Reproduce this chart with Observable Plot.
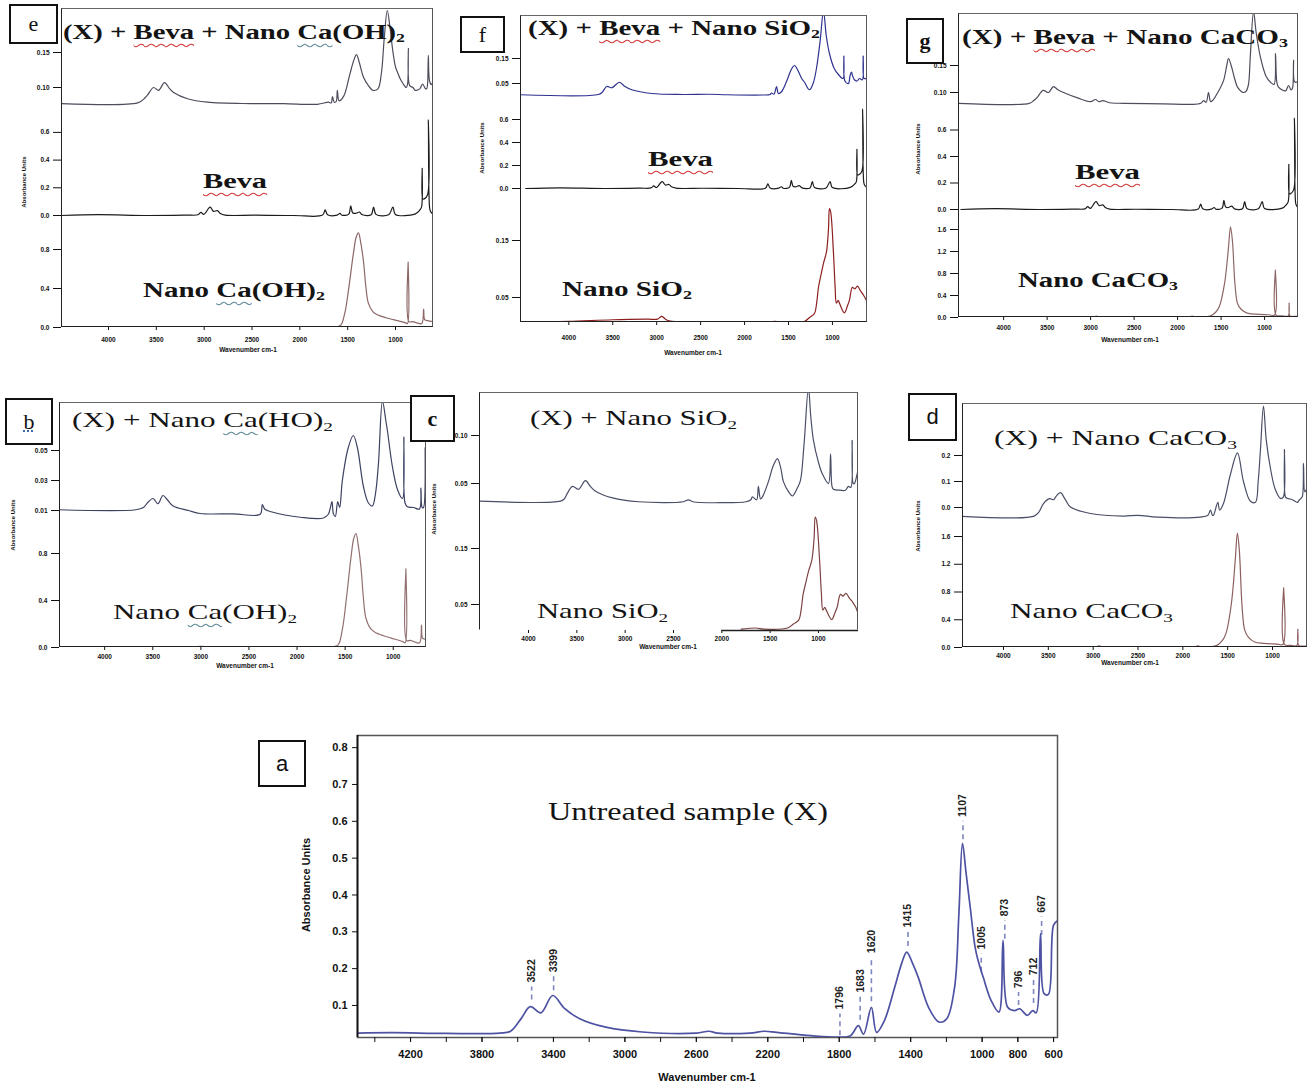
<!DOCTYPE html>
<html><head><meta charset="utf-8">
<script src="https://cdn.jsdelivr.net/npm/d3@7"></script>
<script src="https://cdn.jsdelivr.net/npm/@observablehq/plot@0.6"></script>
<style>
body{margin:0;background:#fff;}
#fig{position:relative;width:1312px;height:1085px;overflow:hidden;background:#fff;}
.abs{position:absolute;}
.frame{position:absolute;box-sizing:border-box;pointer-events:none;border-style:solid;border-width:1.5px;border-color:#666 #555 #222 #222;}
.title{position:absolute;font-family:"Liberation Serif","Times New Roman",serif;white-space:nowrap;line-height:1;transform-origin:0 50%;color:#141414;}
.box{position:absolute;border:2.5px solid #111;background:#fff;box-sizing:border-box;display:flex;align-items:center;justify-content:center;color:#111;}
.ax{position:absolute;font-family:"Liberation Sans",Arial,sans-serif;font-weight:bold;white-space:nowrap;line-height:1;color:#111;}
.wr{text-decoration:underline wavy #d23b3b;text-decoration-thickness:1px;text-underline-offset:4px;}
.wb{text-decoration:underline wavy #5f8a9a;text-decoration-thickness:1px;text-underline-offset:4px;}
sub{font-size:0.62em;vertical-align:-0.28em;line-height:0;}
</style></head><body><div id="fig"></div>
<script>
// ---------------- DATA (wavenumber cm-1, absorbance) ----------------
const aSpectrum = [[4497,0.025],[4300,0.026],[4000,0.024],[3700,0.025],[3640,0.03],[3580,0.065],[3530,0.097],[3470,0.08],[3404,0.127],[3340,0.093],[3253,0.064],[3107,0.041],[2903,0.028],[2600,0.025],[2530,0.03],[2480,0.025],[2300,0.025],[2218,0.03],[2150,0.027],[1958,0.018],[1800,0.014],[1737,0.018],[1693,0.045],[1664,0.022],[1620,0.095],[1591,0.027],[1547,0.059],[1489,0.15],[1450,0.215],[1422,0.245],[1390,0.215],[1358,0.177],[1300,0.095],[1241,0.055],[1198,0.064],[1154,0.15],[1130,0.35],[1110,0.54],[1090,0.46],[1067,0.368],[1040,0.26],[1023,0.223],[994,0.177],[950,0.114],[906,0.082],[883,0.277],[857,0.095],[819,0.086],[790,0.091],[746,0.073],[717,0.086],[697,0.08],[673,0.295],[653,0.132],[629,0.13],[600,0.318],[578,0.33]];
const aPeakWn = [3522,3399,1796,1683,1620,1415,1107,1005,873,796,712,667];
const aDashLo = [0.115,0.14,0.018,0.06,0.11,0.26,0.55,0.19,0.28,0.10,0.105,0.29];
const aDashHi = [0.15,0.178,0.077,0.123,0.23,0.30,0.60,0.24,0.33,0.135,0.17,0.34];
const aYTicks = [0.1,0.2,0.3,0.4,0.5,0.6,0.7,0.8];
const aXTicks = [4200,3800,3400,3000,2600,2200,1800,1400,1000,800,600];
const aXMinor = [4400,4200,4000,3800,3600,3400,3200,3000,2800,2600,2400,2200,2000,1800,1600,1400,1200,1000,800,600];

const eTop = [[4491,0.077],[3695,0.078],[3634,0.083],[3593,0.089],[3529,0.100],[3477,0.096],[3414,0.107],[3359,0.098],[3319,0.093],[3174,0.084],[2966,0.079],[2516,0.077],[2170,0.077],[1816,0.076],[1701,0.079],[1672,0.078],[1659,0.087],[1641,0.079],[1620,0.08],[1608,0.096],[1590,0.081],[1540,0.088],[1479,0.118],[1438,0.138],[1408,0.147],[1377,0.135],[1336,0.115],[1285,0.103],[1235,0.096],[1184,0.098],[1148,0.12],[1118,0.17],[1086,0.21],[1057,0.185],[1031,0.155],[1001,0.13],[980,0.122],[950,0.112],[919,0.105],[889,0.1],[874,0.105],[866,0.156],[853,0.103],[818,0.1],[792,0.096],[747,0.098],[716,0.105],[691,0.099],[675,0.098],[665,0.105],[657,0.146],[645,0.11],[625,0.104],[604,0.11],[583,0.112]];
const fTop = [[4550,0.005],[3663,0.006],[3620,0.015],[3568,0.038],[3511,0.033],[3424,0.055],[3370,0.04],[3284,0.025],[3057,0.01],[2700,0.006],[2400,0.007],[2200,0.005],[1800,0.004],[1710,0.006],[1693,0.012],[1665,0.007],[1636,0.038],[1615,0.01],[1580,0.017],[1520,0.06],[1470,0.105],[1432,0.122],[1390,0.1],[1350,0.07],[1318,0.055],[1261,0.025],[1220,0.05],[1182,0.11],[1140,0.22],[1102,0.34],[1070,0.24],[1034,0.17],[980,0.11],[932,0.086],[880,0.07],[870,0.16],[858,0.06],[818,0.05],[800,0.08],[784,0.096],[770,0.08],[750,0.065],[720,0.06],[693,0.07],[660,0.065],[650,0.16],[640,0.07],[614,0.07],[591,0.07]];
const gTop = [[4519,0.080],[3705,0.080],[3654,0.085],[3614,0.091],[3546,0.104],[3484,0.100],[3427,0.111],[3376,0.105],[3312,0.100],[3150,0.090],[3001,0.083],[2944,0.087],[2904,0.083],[2863,0.085],[2781,0.081],[2621,0.080],[2164,0.079],[1851,0.078],[1733,0.080],[1702,0.085],[1671,0.082],[1645,0.100],[1620,0.083],[1599,0.085],[1538,0.100],[1472,0.122],[1435,0.150],[1415,0.163],[1384,0.150],[1343,0.125],[1311,0.110],[1242,0.100],[1209,0.103],[1185,0.115],[1163,0.17],[1127,0.25],[1096,0.21],[1047,0.165],[983,0.13],[932,0.119],[891,0.115],[874,0.172],[860,0.12],[840,0.11],[759,0.103],[725,0.113],[696,0.105],[679,0.108],[667,0.16],[655,0.12],[622,0.12],[610,0.125]];
const bTop = [[4470,0.0105],[3677,0.0105],[3597,0.012],[3550,0.0155],[3498,0.018],[3446,0.0145],[3394,0.020],[3347,0.017],[3289,0.013],[3127,0.010],[3008,0.008],[2664,0.0078],[2383,0.0075],[2362,0.014],[2337,0.011],[2310,0.010],[2127,0.007],[1967,0.0055],[1727,0.005],[1675,0.0075],[1637,0.016],[1623,0.008],[1602,0.006],[1577,0.016],[1557,0.012],[1529,0.030],[1467,0.052],[1415,0.060],[1373,0.052],[1310,0.026],[1258,0.015],[1217,0.013],[1185,0.021],[1154,0.041],[1112,0.083],[1077,0.070],[1060,0.063],[1008,0.039],[956,0.024],[904,0.018],[889,0.059],[877,0.015],[852,0.0125],[789,0.012],[727,0.011],[712,0.025],[699,0.012],[685,0.012],[667,0.052],[657,0.013],[654,0.012]];
const cTop = [[4507,0.0316],[3669,0.0316],[3630,0.034],[3597,0.040],[3545,0.047],[3483,0.044],[3411,0.053],[3360,0.047],[3307,0.042],[3131,0.035],[2862,0.031],[2400,0.031],[2345,0.033],[2300,0.031],[1994,0.030],[1750,0.031],[1700,0.033],[1684,0.036],[1640,0.033],[1622,0.047],[1600,0.034],[1580,0.036],[1518,0.052],[1470,0.068],[1425,0.076],[1390,0.066],[1363,0.052],[1300,0.040],[1270,0.037],[1220,0.045],[1187,0.053],[1150,0.09],[1104,0.15],[1080,0.12],[1052,0.095],[1000,0.072],[960,0.060],[897,0.050],[875,0.081],[860,0.047],[845,0.044],[780,0.043],[721,0.043],[690,0.047],[665,0.046],[652,0.095],[640,0.05],[628,0.05],[600,0.06],[586,0.065]];
const dTop = [[4457,-0.034],[3666,-0.034],[3610,-0.02],[3554,0.015],[3487,0.034],[3440,0.03],[3420,0.04],[3365,0.057],[3310,0.03],[3253,0.002],[3030,-0.023],[2662,-0.033],[2500,-0.03],[2283,-0.037],[1804,-0.037],[1720,-0.03],[1692,-0.01],[1670,-0.03],[1659,-0.03],[1610,0.02],[1590,-0.01],[1547,0.015],[1469,0.128],[1391,0.21],[1324,0.10],[1246,0.024],[1190,0.02],[1160,0.1],[1135,0.22],[1101,0.39],[1070,0.26],[1023,0.15],[970,0.07],[912,0.035],[880,0.04],[867,0.223],[855,0.04],[834,0.035],[778,0.03],[722,0.02],[700,0.03],[670,0.04],[655,0.17],[640,0.06],[622,0.07],[610,0.08]];

const beva = [[4491,0],[4102,0.006],[3593,0],[3187,0.003],[3065,0.005],[3034,0.022],[3003,0.008],[2938,0.06],[2902,0.03],[2861,0.035],[2831,0.015],[2780,0.003],[2475,0.002],[2068,0],[1763,0.003],[1735,0.04],[1710,0.005],[1611,0.003],[1580,0.015],[1560,0.002],[1489,0.01],[1468,0.07],[1448,0.02],[1417,0.015],[1377,0.025],[1346,0.005],[1255,0.005],[1229,0.06],[1204,0.008],[1072,0.005],[1027,0.06],[1001,0.008],[797,0.01],[746,0.04],[728,0.06],[721,0.34],[715,0.12],[700,0.12],[665,0.15],[657,0.69],[650,0.15],[640,0.04],[625,0.02],[604,0.01],[543,0.005]];
const nanoCaOH2 = [[4491,0.003],[3700,0.004],[3100,0.006],[3000,0.01],[2900,0.006],[2000,0.003],[1680,0.005],[1576,0.02],[1530,0.15],[1492,0.38],[1440,0.76],[1410,0.93],[1387,0.97],[1365,0.88],[1335,0.68],[1310,0.42],[1284,0.25],[1235,0.16],[1190,0.13],[1100,0.1],[1020,0.08],[900,0.05],[876,0.04],[868,0.67],[860,0.06],[820,0.06],[785,0.05],[725,0.04],[706,0.19],[695,0.08],[665,0.07],[600,0.06]];
const nanoSiO2 = [[4550,0.006],[4000,0.008],[3500,0.011],[3100,0.012],[2990,0.012],[2943,0.017],[2880,0.01],[2680,0.007],[2200,0.006],[1800,0.006],[1650,0.008],[1560,0.006],[1320,0.008],[1260,0.015],[1205,0.022],[1180,0.04],[1159,0.068],[1130,0.09],[1102,0.11],[1068,0.13],[1045,0.17],[1034,0.206],[1020,0.2],[989,0.13],[970,0.07],[955,0.04],[935,0.045],[920,0.04],[864,0.023],[830,0.035],[807,0.045],[773,0.068],[745,0.065],[716,0.07],[682,0.062],[650,0.055],[614,0.045],[585,0.03]];
const nanoCaCO3 = [[4500,0.01],[3500,0.01],[2960,0.012],[2930,0.025],[2900,0.01],[1860,0.012],[1830,0.025],[1800,0.01],[1620,0.03],[1560,0.1],[1520,0.2],[1460,0.62],[1415,1.27],[1392,1.65],[1370,1.4],[1340,0.6],[1310,0.25],[1270,0.15],[1200,0.08],[1100,0.06],[950,0.05],[884,0.045],[876,0.86],[868,0.045],[800,0.03],[728,0.03],[718,0.26],[708,0.03],[650,0.02],[600,0.02]];

const topXTicks = [4000,3500,3000,2500,2000,1500,1000];
const eTopTicks = [0.10,0.15], bevaTicks = [0,0.2,0.4,0.6], caohTicks = [0,0.4,0.8];
const fTopTicks = [0.05,0.15], sio2Ticks = [0.05,0.15];
const gTopTicks = [0.10,0.15], caco3Ticks = [0,0.4,0.8,1.2,1.6];
const bTopTicks = [0.01,0.03,0.05], cTopTicks = [0.05,0.10], dTopTicks = [0,0.1,0.2];

// ---------------- LAYOUT ----------------
const fig = document.getElementById("fig");
const tickStyle = {fontFamily:"Liberation Sans, Arial, sans-serif", fontSize:"6.5px", fontWeight:"bold", background:"transparent", color:"#111", overflow:"visible"};

function place(el, left, top){ const d=document.createElement("div"); d.className="abs"; d.style.left=left+"px"; d.style.top=top+"px"; d.appendChild(el); fig.appendChild(d); return d; }

const panels = [
 {L:61,R:433,T:8,B:327,xd:[4491,603],xtp:6.5,subs:[
   {top:8,bottom:108,cal:[[0.10,87],[0.15,52]],ticks:eTopTicks,fmt:".2f",data:eTop,color:"#4d4d5c"},
   {top:108,bottom:222,cal:[[0,215],[0.2,187.3]],ticks:bevaTicks,fmt:".1f",data:beva,color:"#1c1c1c"},
   {top:222,bottom:327,cal:[[0,327],[0.4,288]],ticks:caohTicks,fmt:".1f",data:nanoCaOH2,color:"#8d6767"}]},
 {L:520,R:867,T:15,B:322,xd:[4550,601],xtp:10,subs:[
   {top:15,bottom:100,cal:[[0.05,83],[0.15,58]],ticks:fTopTicks,fmt:".2f",data:fTop,color:"#2f3390"},
   {top:100,bottom:195,cal:[[0,188],[0.2,165]],ticks:bevaTicks,fmt:".1f",data:beva,color:"#1c1c1c"},
   {top:195,bottom:322,cal:[[0.05,297],[0.15,240]],ticks:sio2Ticks,fmt:".2f",data:nanoSiO2,color:"#8e1f1f"}]},
 {L:958,R:1298,T:13,B:317,xd:[4519,610],xtp:4.5,subs:[
   {top:13,bottom:112,cal:[[0.10,92],[0.15,65]],ticks:gTopTicks,fmt:".2f",data:gTop,color:"#4d4d5c"},
   {top:112,bottom:216,cal:[[0,209],[0.2,182.5]],ticks:bevaTicks,fmt:".1f",data:beva,color:"#1c1c1c"},
   {top:216,bottom:317,cal:[[0,317],[0.4,295]],ticks:caco3Ticks,fmt:".1f",data:nanoCaCO3,color:"#8d6767"}]},
 {L:59,R:426,T:402,B:647,xd:[4470,654],xtp:3.5,subs:[
   {top:402,bottom:528,cal:[[0.01,510],[0.05,450]],ticks:bTopTicks,fmt:".2f",data:bTop,color:"#3d4262"},
   {top:528,bottom:647,cal:[[0,647],[0.4,600]],ticks:caohTicks,fmt:".1f",data:nanoCaOH2,color:"#927070"}]},
 {L:479,R:858,T:392,B:630,xd:[4507,586],xtp:2.5,noBottom:true,subs:[
   {top:392,bottom:512,cal:[[0.05,483],[0.10,435]],ticks:cTopTicks,fmt:".2f",data:cTop,color:"#4b4f66"},
   {top:512,bottom:630,cal:[[0.05,604],[0.15,548]],ticks:sio2Ticks,fmt:".2f",data:nanoSiO2,color:"#7d4343",maxWn:2000}]},
 {L:962,R:1307,T:403,B:647,xd:[4457,610],xtp:2.5,subs:[
   {top:403,bottom:525,cal:[[0,507],[0.10,481]],ticks:dTopTicks,fmt:".1f",data:dTop,color:"#4b4f66"},
   {top:525,bottom:647,cal:[[0,647],[0.4,619.25]],ticks:caco3Ticks,fmt:".1f",data:nanoCaCO3,color:"#8d5f5f"}]}
];

for (const p of panels){
  const ML=44, MR=4;
  p.subs.forEach((s,i)=>{
    const last = i===p.subs.length-1;
    const MB = last?30:0;
    const [v1,p1]=s.cal[0], [v2,p2]=s.cal[1];
    const k=(v2-v1)/(p1-p2);
    const yTop=v1+(p1-s.top)*k, yBot=v1-(s.bottom-p1)*k;
    const data = s.maxWn ? s.data.filter(d=>d[0]<=s.maxWn) : s.data;
    const marks=[
      Plot.line(data,{x:d=>d[0],y:d=>d[1],stroke:s.color,strokeWidth:1.2,curve:"catmull-rom",clip:true}),
      Plot.axisY(s.ticks,{tickSize:8,tickPadding:4,tickFormat:d3.format(s.fmt),label:null})
    ];
    if(last){
      marks.push(Plot.axisX(topXTicks,{tickSize:3,tickPadding:p.xtp,tickFormat:d=>String(d),label:null}));
      if(p.noBottom) marks.push(Plot.ruleY([yBot],{x1:2000,x2:p.xd[1],stroke:"#222",strokeWidth:1.5}));
    }
    const svg=Plot.plot({width:p.R-p.L+ML+MR,height:s.bottom-s.top+MB,marginLeft:ML,marginRight:MR,marginTop:0,marginBottom:MB,
      x:{domain:p.xd,axis:null},y:{domain:[yBot,yTop],axis:null},style:tickStyle,marks});
    place(svg,p.L-ML,s.top);
  });
  const fr=document.createElement("div"); fr.className="frame";
  Object.assign(fr.style,{left:p.L+"px",top:p.T+"px",width:(p.R-p.L)+"px",height:(p.B-p.T)+"px"});
  if(p.noBottom) fr.style.borderBottomColor="transparent";
  fig.appendChild(fr);
}

// Panel a
{
  const L=357,R=1057,T=735,B=1037, ML=60, MR=10, MT=5, MB=34;
  const idx = d3.range(aPeakWn.length);
  const svg=Plot.plot({width:R-L+ML+MR,height:B-T+MT+MB,marginLeft:ML,marginRight:MR,marginTop:MT,marginBottom:MB,
    x:{domain:[4497,578],axis:null},y:{domain:[0.013,0.833],axis:null},
    style:{fontFamily:"Liberation Sans, Arial, sans-serif",fontSize:"11px",fontWeight:"bold",background:"transparent",color:"#111",overflow:"visible"},
    marks:[
      Plot.frame({stroke:"#555",strokeWidth:1.5}),
      Plot.ruleX(idx,{x:i=>aPeakWn[i],y1:i=>aDashLo[i],y2:i=>aDashHi[i],stroke:"#7f87c0",strokeWidth:1.6,strokeDasharray:"5,4"}),
      Plot.line(aSpectrum,{x:d=>d[0],y:d=>d[1],stroke:"#4e52a2",strokeWidth:1.7,curve:"catmull-rom",clip:true}),
      Plot.text(idx,{x:i=>aPeakWn[i],y:i=>aDashHi[i]+0.012,text:i=>String(aPeakWn[i]),rotate:-90,textAnchor:"start",fontSize:10.5,fontWeight:"bold",fill:"#222"}),
      Plot.axisY(aYTicks,{tickSize:5,tickPadding:5,tickFormat:d3.format(".1f"),label:null}),
      Plot.axisX(aXMinor,{tickSize:5,tickFormat:()=>"",label:null}),
      Plot.axisX(aXTicks,{tickSize:5,tickPadding:8,tickFormat:d=>String(d),label:null}),
      Plot.ruleX([4497],{stroke:"#111",strokeWidth:1.8})
    ]});
  place(svg,L-ML,T-MT);
}

// ---------------- TEXT ----------------
const titles=[
 {h:'(X) + <span class="wr">Beva</span> + Nano <span class="wb">Ca</span>(OH)<sub>2</sub>',x:63,cy:32,w:342,fs:20,b:1},
 {h:'<span class="wr">Beva</span>',x:203,cy:181,w:64,fs:20,b:1},
 {h:'Nano <span class="wb">Ca</span>(OH)<sub>2</sub>',x:143,cy:290,w:182,fs:20,b:1},
 {h:'(X) + <span class="wr">Beva</span> + Nano SiO<sub>2</sub>',x:528,cy:28,w:292,fs:20,b:1},
 {h:'<span class="wr">Beva</span>',x:648,cy:159,w:65,fs:20,b:1},
 {h:'Nano SiO<sub>2</sub>',x:562,cy:289,w:130,fs:20,b:1},
 {h:'(X) + <span class="wr">Beva</span> + Nano CaCO<sub>3</sub>',x:962,cy:37,w:326,fs:20,b:1},
 {h:'<span class="wr">Beva</span>',x:1075,cy:172,w:65,fs:20,b:1},
 {h:'Nano CaCO<sub>3</sub>',x:1018,cy:280,w:160,fs:20,b:1},
 {h:'(X) + Nano <span class="wb">Ca</span>(HO)<sub>2</sub>',x:72,cy:420,w:261,fs:21,b:0},
 {h:'Nano <span class="wb">Ca</span>(OH)<sub>2</sub>',x:113,cy:612,w:184,fs:21,b:0},
 {h:'(X) + Nano SiO<sub>2</sub>',x:530,cy:418,w:207,fs:21,b:0},
 {h:'Nano SiO<sub>2</sub>',x:537,cy:611,w:131,fs:21,b:0},
 {h:'(X) + Nano CaCO<sub>3</sub>',x:994,cy:438,w:243,fs:21,b:0},
 {h:'Nano CaCO<sub>3</sub>',x:1010,cy:611,w:163,fs:21,b:0},
 {h:'Untreated sample (X)',x:548,cy:812,w:280,fs:26,b:0}
];
for(const t of titles){
  const el=document.createElement("div"); el.className="title"; el.innerHTML=t.h;
  Object.assign(el.style,{left:t.x+"px",top:(t.cy-t.fs*0.5)+"px",fontSize:t.fs+"px",fontWeight:t.b?"bold":"normal"});
  fig.appendChild(el);
  const w=el.getBoundingClientRect().width;
  el.style.transform=`scaleX(${t.w/w})`;
}

const boxes=[
 {l:'e',x:9,y:4,w:49,h:40,f:"serif",wt:"normal"},
 {l:'f',x:460,y:16,w:45,h:37,f:"serif",wt:"normal"},
 {l:'g',x:906,y:18,w:38,h:46,f:"serif",wt:"bold"},
 {l:'b',x:5,y:398,w:48,h:47,f:"serif",wt:"normal"},
 {l:'c',x:410,y:395,w:45,h:47,f:"serif",wt:"bold"},
 {l:'d',x:908,y:393,w:49,h:48,f:"sans",wt:"normal"},
 {l:'a',x:258,y:740,w:48,h:47,f:"sans",wt:"normal"}
];
for(const b of boxes){
  const el=document.createElement("div"); el.className="box";
  const s=document.createElement("span"); s.textContent=b.l;
  if(b.l==='b'){s.style.textDecoration="underline dotted #3a6ab0";}
  el.appendChild(s);
  Object.assign(el.style,{left:b.x+"px",top:b.y+"px",width:b.w+"px",height:b.h+"px",
    fontFamily:b.f==="serif"?'"Liberation Serif",serif':'"Liberation Sans",Arial,sans-serif',fontSize:"22px",fontWeight:b.wt});
  fig.appendChild(el);
}

const axLabels=[
 {t:"Wavenumber cm-1",cx:248,cy:350,fs:6.5,r:0},{t:"Wavenumber cm-1",cx:693,cy:353,fs:6.5,r:0},{t:"Wavenumber cm-1",cx:1130,cy:340,fs:6.5,r:0},
 {t:"Wavenumber cm-1",cx:245,cy:666,fs:6.5,r:0},{t:"Wavenumber cm-1",cx:668,cy:647,fs:6.5,r:0},{t:"Wavenumber cm-1",cx:1130,cy:663,fs:6.5,r:0},
 {t:"Absorbance Units",cx:24,cy:182,fs:6,r:1},{t:"Absorbance Units",cx:482,cy:148,fs:6,r:1},{t:"Absorbance Units",cx:918,cy:149,fs:6,r:1},
 {t:"Absorbance Units",cx:13,cy:525,fs:6,r:1},{t:"Absorbance Units",cx:434,cy:509,fs:6,r:1},{t:"Absorbance Units",cx:918,cy:526,fs:6,r:1},
 {t:"Wavenumber cm-1",cx:707,cy:1077,fs:11,r:0},{t:"Absorbance Units",cx:306,cy:885,fs:11,r:1}
];
for(const a of axLabels){
  const el=document.createElement("div"); el.className="ax"; el.textContent=a.t;
  Object.assign(el.style,{left:a.cx+"px",top:a.cy+"px",fontSize:a.fs+"px",transform:`translate(-50%,-50%)${a.r?" rotate(-90deg)":""}`});
  fig.appendChild(el);
}
</script></body></html>
